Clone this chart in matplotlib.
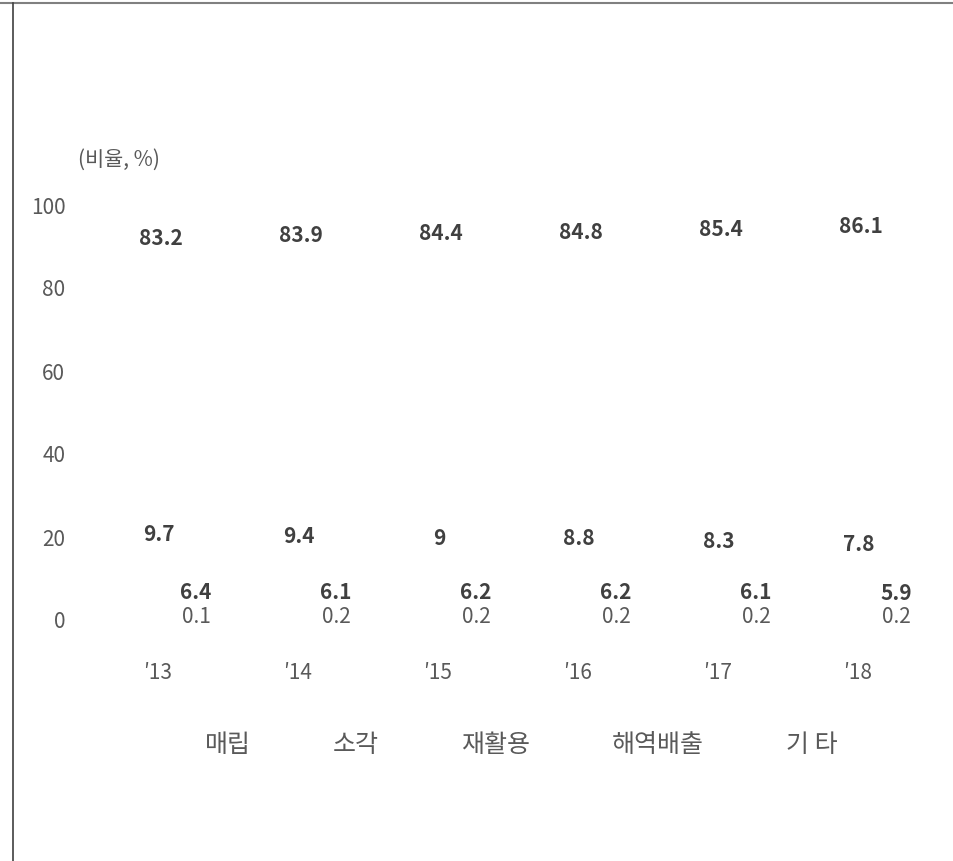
import matplotlib
matplotlib.use("Agg")
import matplotlib.pyplot as plt
from matplotlib.lines import Line2D
from matplotlib.patches import Patch
import numpy as np

plt.rcParams['font.family'] = ['Noto Sans CJK KR', 'DejaVu Sans']

years = ["\u203213", "\u203214", "\u203215", "\u203216", "\u203217", "\u203218"]
legend_names = ["매립", "소각", "재활용", "해역배출", "기 타"]

# stacked from the bottom up
other = [0.1, 0.2, 0.2, 0.2, 0.2, 0.2]
incineration = [6.4, 6.1, 6.2, 6.2, 6.1, 5.9]
landfill = [9.7, 9.4, 9.0, 8.8, 8.3, 7.8]
recycling = [83.2, 83.9, 84.4, 84.8, 85.4, 86.1]

VALUE_COLOR = "#404040"
TEXT_COLOR = "#595959"

W, H = 954, 862
fig = plt.figure(figsize=(W / 100, H / 100), dpi=100)
fig.patch.set_facecolor("white")

# plot area in pixels: x from 75 to 940, y=0 at 620, y=100 at 205
ax = fig.add_axes([75 / W, (H - 620) / H, 865 / W, 415 / H])
x = np.arange(len(years))
ax.set_xlim((75 - 158) / 140, (940 - 158) / 140)
ax.set_ylim(0, 100)

# the bars themselves are white in the source chart
bottom = np.zeros(len(years))
series = [other, incineration, landfill, recycling]
for vals in series:
    ax.bar(x, vals, 0.5, bottom=bottom, color="white", edgecolor="none")
    bottom = bottom + np.array(vals)

cum_other = np.array(other)
cum_inc = cum_other + np.array(incineration)
cum_land = cum_inc + np.array(landfill)

for i in range(len(years)):
    ax.annotate(f"{recycling[i]:g}", (x[i], recycling[i]), xytext=(3, 36),
                textcoords="offset pixels", ha="center", va="center",
                fontsize=15, fontweight="bold", color=VALUE_COLOR)
    ax.annotate(f"{landfill[i]:g}", (x[i], cum_land[i]), xytext=(1, 18),
                textcoords="offset pixels", ha="center", va="center",
                fontsize=15, fontweight="bold", color=VALUE_COLOR)
    ax.annotate(f"{incineration[i]:g}", (x[i], cum_inc[i]), xytext=(38, 1),
                textcoords="offset pixels", ha="center", va="center",
                fontsize=15, fontweight="bold", color=VALUE_COLOR)
    ax.annotate(f"{other[i]:g}", (x[i], 0), xytext=(38, 3),
                textcoords="offset pixels", ha="center", va="center",
                fontsize=15, color=TEXT_COLOR)

ax.set_xticks(x)
ax.set_xticklabels(years)
ax.set_yticks(np.arange(0, 101, 20))
ax.tick_params(axis="x", length=0, pad=30, labelsize=15, labelcolor=TEXT_COLOR)
ax.tick_params(axis="y", length=0, pad=7, labelsize=15, labelcolor=TEXT_COLOR)
for s in ax.spines.values():
    s.set_visible(False)
ax.patch.set_alpha(0)

fig.text(78 / W, (H - 160) / H, "(비율, %)", fontsize=15, color=TEXT_COLOR,
         ha="left", va="center")

handles = [Patch(facecolor="white", edgecolor="none") for _ in legend_names]
fig.legend(handles, legend_names, loc="center left",
           bbox_to_anchor=(165 / W, (H - 745) / H), ncol=5, frameon=False,
           fontsize=18, labelcolor=TEXT_COLOR, handlelength=1.2,
           handletextpad=0.4, columnspacing=1.68, borderpad=0, borderaxespad=0)

# frame lines of the original figure
fig.add_artist(Line2D([0, 1], [(H - 4) / H] * 2, color="#808080", lw=1.5,
                      transform=fig.transFigure))
fig.add_artist(Line2D([13 / W] * 2, [0, (H - 4) / H], color="#404040", lw=1.2,
                      transform=fig.transFigure))

plt.savefig("out.png", dpi=100, facecolor="white")
